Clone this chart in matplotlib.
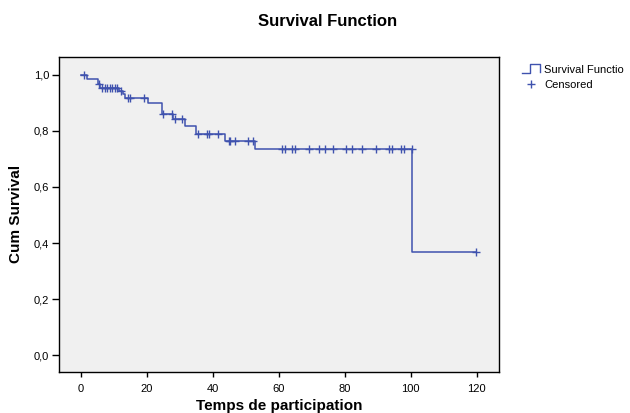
import numpy as np
import matplotlib
matplotlib.use('Agg')
import matplotlib.pyplot as plt
from matplotlib.lines import Line2D
from matplotlib.legend_handler import HandlerBase

# Kaplan-Meier steps
event_times = [1.9, 5.0, 5.8, 11.5, 12.8, 13.3, 20.3, 24.5, 27.8, 31.5, 35.0, 43.5, 52.8, 100.5]
surv_after = [0.985, 0.969, 0.953, 0.941, 0.930, 0.917, 0.901, 0.860, 0.844, 0.817, 0.790,
              0.763, 0.734, 0.367]
cens_times = [1.0, 5.3, 6.3, 7.1, 7.9, 8.7, 9.5, 10.3, 11.0, 12.2, 14.1, 14.8, 19.2, 24.9,
              27.5, 28.5, 30.5, 35.5, 38.1, 38.8, 41.6, 44.8, 45.2, 46.8, 50.7, 52.2, 61.0,
              61.9, 63.9, 64.9, 69.1, 72.1, 73.9, 76.3, 80.3, 82.2, 85.2, 89.4, 93.4, 94.2,
              97.0, 97.9, 100.4, 119.7]
x_ticks = [0, 20, 40, 60, 80, 100, 120]
y_ticks = [0.0, 0.2, 0.4, 0.6, 0.8, 1.0]

blue = '#3f52ae'
plt.rcParams['font.family'] = ['Liberation Sans', 'DejaVu Sans']

step_x = [0] + event_times + [max(cens_times)]
step_y = [1.0] + surv_after + [surv_after[-1]]

levels = np.array([1.0] + surv_after)
cens_y = levels[np.searchsorted(event_times, cens_times, side='right')]


class StepHandler(HandlerBase):
    # legend icon shaped like a step
    def create_artists(self, legend, orig_handle, xdescent, ydescent, width, height,
                       fontsize, trans):
        w, h = width, height
        xs = [0, 0.45 * w, 0.45 * w, w, w]
        ys = [0, 0, h * 1.1, h * 1.1, 0.1 * h]
        return [Line2D(xs, ys, color=blue, lw=1.0, transform=trans)]


fig = plt.figure(figsize=(6.3, 4.13), dpi=100)
ax = fig.add_axes([0.0937, 0.0993, 0.698, 0.763])
ax.set_facecolor('#f0f0f0')

surv_line, = ax.plot(step_x, step_y, drawstyle='steps-post', color=blue, lw=1.1)
cens_pts, = ax.plot(cens_times, cens_y, linestyle='none', marker='+', color=blue,
                    markersize=6, markeredgewidth=1.0)

ax.set_xlim(-6.7, 126.7)
ax.set_ylim(-0.06, 1.064)
ax.set_xticks(x_ticks)
ax.set_yticks(y_ticks)
ax.set_xticklabels([str(t) for t in x_ticks])
ax.set_yticklabels([f'{v:.1f}'.replace('.', ',') for v in y_ticks])
ax.tick_params(direction='out', width=1, labelsize=8, colors='black')
ax.tick_params(axis='x', length=3.5, pad=5)
ax.tick_params(axis='y', length=5, pad=2)
for sp in ax.spines.values():
    sp.set_linewidth(1.0)
    sp.set_color('black')

ax.set_xlabel('Temps de participation', fontsize=11, fontweight='bold')
ax.xaxis.set_label_coords(0.5, -0.087)
ax.set_ylabel('Cum Survival', fontsize=11, fontweight='bold')
ax.yaxis.set_label_coords(-0.082, 0.5)

fig.text(328 / 630, 1 - 21 / 413, 'Survival Function', ha='center', va='center',
         fontsize=12, fontweight='bold')

fig.legend([surv_line, cens_pts], ['Survival Functio', 'Censored'],
           handler_map={surv_line: StepHandler()},
           loc='upper left', bbox_to_anchor=(522 / 630, 1 - 65 / 413), frameon=False,
           fontsize=8, handlelength=1.6, handletextpad=0.4, labelspacing=0.45,
           borderaxespad=0, borderpad=0)

fig.savefig('out.png', dpi=100)
